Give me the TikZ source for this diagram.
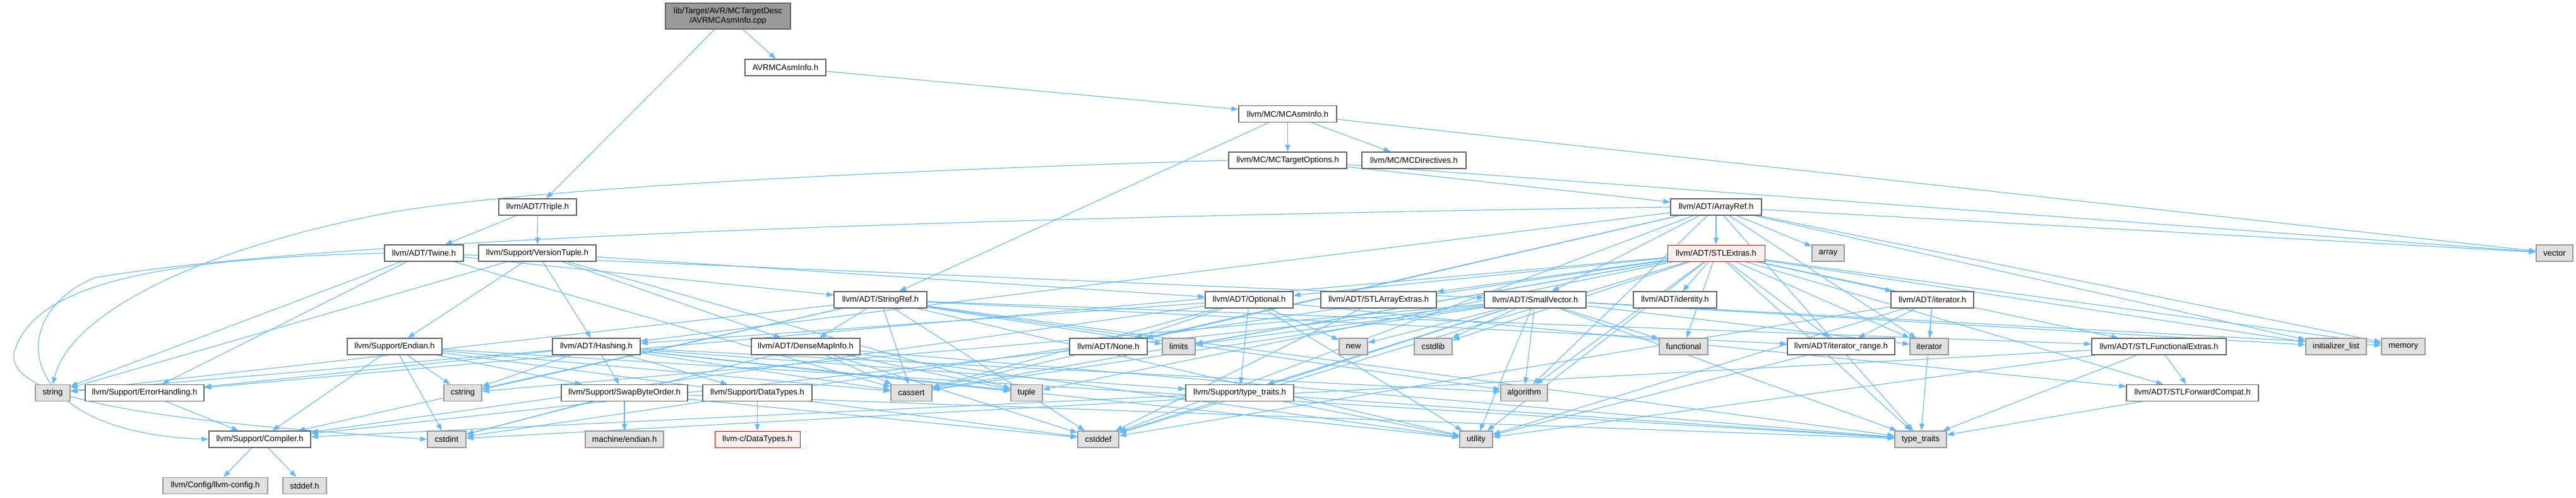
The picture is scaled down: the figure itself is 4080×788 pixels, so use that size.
\documentclass[tikz,border=0pt]{standalone}
\usepackage{fontspec}
\setmainfont{Liberation Sans}
\usetikzlibrary{arrows.meta}
\pgfdeclarelayer{bg}
\pgfsetlayers{bg,main}
\definecolor{edgeblue}{HTML}{63B8FF}
\definecolor{boxborder}{HTML}{666666}
\definecolor{sysfill}{HTML}{E0E0E0}
\definecolor{sysborder}{HTML}{999999}
\definecolor{truncfill}{HTML}{FFF0F0}
\definecolor{rootfill}{HTML}{999999}
\begin{document}
\begin{tikzpicture}[x=1pt,y=-1pt,
  box/.style={draw=boxborder, fill=white, line width=1.3pt, inner sep=0pt,
    minimum height=26pt, font=\fontsize{13}{14.5}\selectfont, anchor=center, align=center},
  sys/.style={box, fill=sysfill, draw=sysborder},
  trunc/.style={box, fill=truncfill, draw=red, line width=1pt},
  root/.style={box, fill=rootfill, draw=boxborder},
  edge/.style={draw=edgeblue, line width=1.1pt, -{Triangle[length=11pt,width=8pt]}}]
\useasboundingbox (0,0) rectangle (4080,788);
% rank 1-5
\node[root, minimum width=198pt, minimum height=41pt] (cpp) at (1153,25.5) {lib/Target/AVR/MCTargetDesc\\/AVRMCAsmInfo.cpp};
\node[box, minimum width=128pt] (avrh) at (1244,107) {AVRMCAsmInfo.h};
\node[box, minimum width=155pt] (mcasm) at (2039.5,180.5) {llvm/MC/MCAsmInfo.h};
\node[box, minimum width=187pt] (mcto) at (2039.5,254) {llvm/MC/MCTargetOptions.h};
\node[box, minimum width=165pt] (mcdir) at (2239.5,254) {llvm/MC/MCDirectives.h};
\node[box, minimum width=123pt] (triple) at (851.5,328) {llvm/ADT/Triple.h};
\node[box, minimum width=144pt] (arrayref) at (2718,328) {llvm/ADT/ArrayRef.h};
% rank 6
\node[box, minimum width=125pt] (twine) at (671.5,401) {llvm/ADT/Twine.h};
\node[box, minimum width=186pt] (vtuple) at (851,401) {llvm/Support/VersionTuple.h};
\node[trunc, minimum width=154pt] (stlextras) at (2718,401) {llvm/ADT/STLExtras.h};
\node[sys, minimum width=51pt] (array) at (2895.5,401) {array};
\node[sys, minimum width=58pt] (vector) at (4046,401) {vector};
% rank 7
\node[box, minimum width=147pt] (stringref) at (1394.5,475) {llvm/ADT/StringRef.h};
\node[box, minimum width=139pt] (optional) at (1978.5,475) {llvm/ADT/Optional.h};
\node[box, minimum width=183pt] (stlarray) at (2183.5,475) {llvm/ADT/STLArrayExtras.h};
\node[box, minimum width=161pt] (smallvec) at (2431.5,475) {llvm/ADT/SmallVector.h};
\node[box, minimum width=132pt] (identity) at (2653,475) {llvm/ADT/identity.h};
\node[box, minimum width=131pt] (iteratorh) at (3060.5,475) {llvm/ADT/iterator.h};
% rank 8
\node[box, minimum width=150pt] (endian) at (625,549) {llvm/Support/Endian.h};
\node[box, minimum width=139pt] (hashing) at (944.5,549) {llvm/ADT/Hashing.h};
\node[box, minimum width=172pt] (densemap) at (1276,549) {llvm/ADT/DenseMapInfo.h};
\node[box, minimum width=123pt] (none) at (1755.5,549) {llvm/ADT/None.h};
\node[sys, minimum width=52pt] (limits) at (1867,549) {limits};
\node[sys, minimum width=45pt] (new) at (2143.5,549) {new};
\node[sys, minimum width=60pt] (cstdlib) at (2270,549) {cstdlib};
\node[sys, minimum width=77pt] (functional) at (2666.5,549) {functional};
\node[box, minimum width=170pt] (itrange) at (2916,549) {llvm/ADT/iterator\_range.h};
\node[sys, minimum width=61pt] (iterator) at (3055.5,549) {iterator};
\node[box, minimum width=213pt] (stlfunc) at (3419.5,549) {llvm/ADT/STLFunctionalExtras.h};
\node[sys, minimum width=96pt] (initlist) at (3700,549) {initializer\_list};
\node[sys, minimum width=69pt] (memory) at (3806.5,549) {memory};
% rank 9
\node[sys, minimum width=55pt] (string) at (83.5,622.5) {string};
\node[box, minimum width=188pt] (errh) at (229,622.5) {llvm/Support/ErrorHandling.h};
\node[sys, minimum width=60pt] (cstring) at (733,622.5) {cstring};
\node[box, minimum width=200pt] (swap) at (989,622.5) {llvm/Support/SwapByteOrder.h};
\node[box, minimum width=173pt] (datatypes) at (1199.5,622.5) {llvm/Support/DataTypes.h};
\node[sys, minimum width=65pt] (cassert) at (1443.5,622.5) {cassert};
\node[sys, minimum width=50pt] (tuple) at (1626,622.5) {tuple};
\node[box, minimum width=171pt] (typetraitsh) at (1963.5,622.5) {llvm/Support/type\_traits.h};
\node[sys, minimum width=74pt] (algorithm) at (2414,622.5) {algorithm};
\node[box, minimum width=209pt] (stlfwd) at (3472.5,622.5) {llvm/ADT/STLForwardCompat.h};
% rank 10
\node[box, minimum width=161pt] (compiler) at (411.5,696) {llvm/Support/Compiler.h};
\node[sys, minimum width=61pt] (cstdint) at (707.5,696) {cstdint};
\node[sys, minimum width=124pt] (mendian) at (989,696) {machine/endian.h};
\node[trunc, minimum width=135pt] (cdatatypes) at (1199.5,696) {llvm-c/DataTypes.h};
\node[sys, minimum width=65pt] (cstddef) at (1739.5,696) {cstddef};
\node[sys, minimum width=52pt] (utility) at (2338,696) {utility};
\node[sys, minimum width=82pt] (typetraits) at (3042,696) {type\_traits};
% rank 11
\node[sys, minimum width=166pt] (llvmconfig) at (341,769.5) {llvm/Config/llvm-config.h};
\node[sys, minimum width=69pt] (stddefh) at (482.5,769.5) {stddef.h};

\begin{pgfonlayer}{bg}
\foreach \s/\t in {cpp/avrh, cpp/triple, avrh/mcasm,
  mcasm/stringref, mcasm/mcdir, mcasm/mcto, mcasm/vector,
  mcto/arrayref, mcto/vector,
  triple/twine, triple/vtuple,
  arrayref/hashing, arrayref/none, arrayref/smallvec, arrayref/stlextras,
  arrayref/algorithm, arrayref/array, arrayref/cassert, arrayref/cstddef, arrayref/initlist,
  arrayref/iterator, arrayref/memory, arrayref/typetraits, arrayref/vector,
  twine/smallvec, twine/stringref, twine/errh, twine/cassert, twine/string,
  vtuple/densemap, vtuple/hashing, vtuple/optional, vtuple/endian, vtuple/string, vtuple/tuple,
  stlextras/optional, stlextras/stlarray, stlextras/stlfwd, stlextras/stlfunc, stlextras/identity,
  stlextras/iteratorh, stlextras/itrange, stlextras/errh, stlextras/algorithm, stlextras/cassert,
  stlextras/cstddef, stlextras/cstdint, stlextras/cstdlib, stlextras/functional, stlextras/initlist,
  stlextras/iterator, stlextras/limits, stlextras/memory, stlextras/tuple, stlextras/typetraits,
  stlextras/utility,
  stringref/densemap, stringref/stlfunc, stringref/itrange, stringref/compiler, stringref/algorithm,
  stringref/cassert, stringref/cstddef, stringref/cstring, stringref/limits, stringref/string,
  stringref/typetraits, stringref/utility,
  optional/hashing, optional/none, optional/stlfwd, optional/compiler, optional/typetraitsh,
  optional/cassert, optional/new, optional/utility,
  stlarray/cstddef,
  smallvec/compiler, smallvec/typetraitsh, smallvec/algorithm, smallvec/cassert, smallvec/cstddef,
  smallvec/cstdlib, smallvec/cstring, smallvec/functional, smallvec/initlist, smallvec/iterator,
  smallvec/limits, smallvec/memory, smallvec/new, smallvec/typetraits, smallvec/utility,
  iteratorh/itrange, iteratorh/cstddef, iteratorh/iterator, iteratorh/typetraits, iteratorh/utility,
  itrange/utility,
  stlfunc/stlfwd, stlfunc/cstdint, stlfunc/typetraits, stlfunc/utility,
  stlfwd/typetraits,
  endian/compiler, endian/swap, endian/cassert, endian/cstddef, endian/cstdint, endian/cstring,
  endian/typetraits,
  hashing/datatypes, hashing/errh, hashing/swap, hashing/typetraitsh, hashing/algorithm,
  hashing/cassert, hashing/cstring, hashing/string, hashing/tuple, hashing/utility,
  densemap/cassert, densemap/cstddef, densemap/cstdint, densemap/tuple, densemap/typetraits,
  densemap/utility,
  typetraitsh/compiler, typetraitsh/typetraits, typetraitsh/utility,
  datatypes/cdatatypes, errh/compiler,
  swap/cstdint, swap/mendian, swap/cstddef, swap/typetraits,
  compiler/llvmconfig, compiler/stddefh}
  { \draw[edge] (\s) -- (\t); }
% long edges routed round the left side
\draw[edge] (mcto.west) .. controls (1400,270) and (800,300) .. (600,340)
  .. controls (300,400) and (110,500) .. (string.north);
\draw[edge] (arrayref.west) .. controls (1500,345) and (500,380) .. (150,440)
  .. controls (5,500) and (20,685) .. (compiler.west);
\draw[edge] (twine.west) .. controls (250,410) and (50,450) .. (22,560)
  .. controls (10,640) and (300,670) .. (cstdint.west);
\end{pgfonlayer}
\end{tikzpicture}
\end{document}
